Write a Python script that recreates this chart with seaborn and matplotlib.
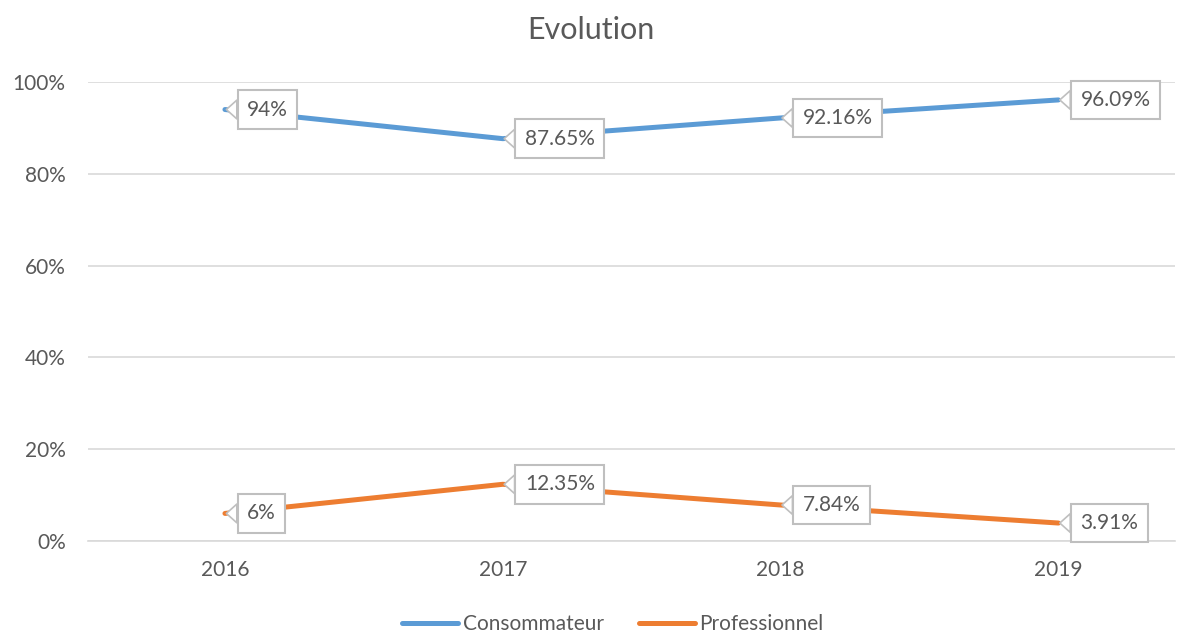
import matplotlib
matplotlib.use("Agg")
import matplotlib.pyplot as plt
import pandas as pd
import seaborn as sns

years = [2016, 2017, 2018, 2019]
consommateur = [0.94, 0.8765, 0.9216, 0.9609]
professionnel = [0.06, 0.1235, 0.0784, 0.0391]
labels_cons = ["94%", "87.65%", "92.16%", "96.09%"]
labels_pro = ["6%", "12.35%", "7.84%", "3.91%"]
series = ["Consommateur", "Professionnel"]
colors = ["#5B9BD5", "#ED7D31"]

sns.set_style("white")
plt.rcParams["font.family"] = ["Lato", "DejaVu Sans"]
txt = "#595959"
grid = "#d9d9d9"

df = pd.DataFrame({
    "year": years * 2,
    "value": consommateur + professionnel,
    "serie": [series[0]] * 4 + [series[1]] * 4,
})

fig = plt.figure(figsize=(11.81, 6.36), dpi=100)
ax = fig.add_axes([0.0745, 0.1494, 0.9205, 0.7217])

sns.lineplot(data=df, x="year", y="value", hue="serie", palette=colors,
             linewidth=3.6, ax=ax, legend=False, solid_capstyle="round")

ax.set_ylim(0, 1)
ax.set_xlim(2016 - 0.493, 2016 + 3.42)
ax.set_yticks([0, 0.2, 0.4, 0.6, 0.8, 1.0])
ax.set_yticklabels(["0%", "20%", "40%", "60%", "80%", "100%"])
ax.set_xticks(years)
ax.set_xticklabels([str(y) for y in years])
ax.tick_params(colors=txt, labelsize=15, length=0, pad=14)
ax.tick_params(axis="y", pad=16)
ax.grid(axis="y", color=grid, linewidth=1.2)
ax.set_axisbelow(True)
for s in ["top", "right", "left"]:
    ax.spines[s].set_visible(False)
ax.spines["bottom"].set_color(grid)
ax.spines["bottom"].set_linewidth(1.2)
ax.set_xlabel("")
ax.set_ylabel("")

for vals, labs in [(consommateur, labels_cons), (professionnel, labels_pro)]:
    for x, v, lab in zip(years, vals, labs):
        ax.annotate(lab, xy=(x, v), xytext=(22, 0), textcoords="offset pixels",
                    ha="left", va="center", fontsize=15, color=txt,
                    bbox=dict(boxstyle="square,pad=0.45", fc="white", ec="#bfbfbf", lw=1.5),
                    arrowprops=dict(arrowstyle="wedge,tail_width=0.9", fc="white",
                                    ec="#bfbfbf", lw=1.2, shrinkA=0, shrinkB=1,
                                    connectionstyle="arc3"),
                    zorder=5)

fig.suptitle("Evolution", y=0.975, fontsize=22, color=txt)

handles = [plt.Line2D([], [], color=c, lw=3.6, solid_capstyle="round") for c in colors]
fig.legend(handles, series, loc="lower center", bbox_to_anchor=(0.519, -0.027), ncol=2,
           frameon=False, fontsize=15, handlelength=2.7, handletextpad=0.2,
           columnspacing=1.7, labelcolor=txt)

fig.savefig("out.png", dpi=100)
